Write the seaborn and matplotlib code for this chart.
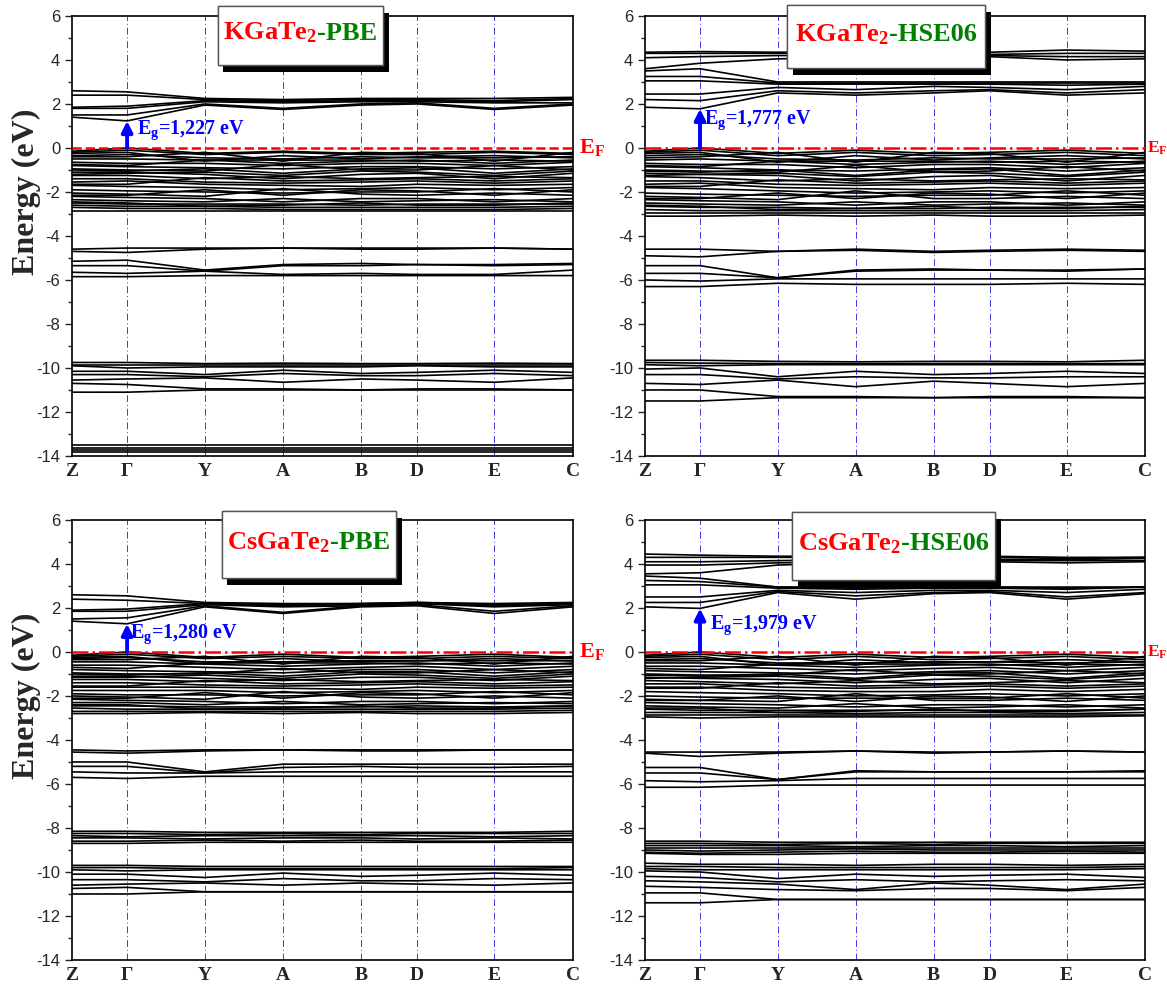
import numpy as np
import pandas as pd
import matplotlib
matplotlib.use('Agg')
import matplotlib.pyplot as plt
import matplotlib.patheffects as pe
from matplotlib.patches import Rectangle
from matplotlib.offsetbox import AnchoredOffsetbox, HPacker, TextArea
from matplotlib.ticker import MultipleLocator
import seaborn as sns

# k-path (Z, Gamma, Y, A, B, D, E, C)
k_labels = ['Z', 'Γ', 'Y', 'A', 'B', 'D', 'E', 'C']
k_pos = [0.0, 0.110, 0.265, 0.421, 0.577, 0.689, 0.843, 1.0]

# ---------------- KGaTe2 - PBE ----------------
kgt_pbe_cond = [
    [1.40, 1.23, 1.95, 1.75, 1.95, 2.00, 1.75, 1.95],
    [1.50, 1.50, 2.00, 1.80, 2.00, 2.05, 1.80, 2.00],
    [1.80, 1.80, 2.10, 2.05, 2.10, 2.10, 2.05, 2.05],
    [1.85, 1.90, 2.15, 2.10, 2.15, 2.15, 2.10, 2.20],
    [2.40, 2.40, 2.20, 2.15, 2.20, 2.20, 2.15, 2.25],
    [2.60, 2.55, 2.25, 2.20, 2.25, 2.25, 2.25, 2.30],
]
kgt_pbe_val = [
    [-0.15, 0.00, -0.25, -0.15, -0.25, -0.20, -0.15, -0.25],
    [-0.20, -0.10, -0.30, -0.20, -0.30, -0.30, -0.20, -0.30],
    [-0.35, -0.30, -0.45, -0.50, -0.40, -0.45, -0.45, -0.40],
    [-0.50, -0.50, -0.55, -0.70, -0.60, -0.55, -0.70, -0.55],
    [-0.65, -0.70, -0.70, -0.80, -0.70, -0.70, -0.80, -0.65],
    [-0.80, -0.85, -0.90, -0.95, -0.85, -0.85, -0.95, -0.85],
    [-0.95, -1.00, -1.05, -0.75, -1.00, -1.00, -0.80, -1.00],
    [-1.10, -1.10, -1.20, -1.40, -1.20, -1.15, -1.40, -1.15],
    [-1.25, -1.25, -1.40, -1.30, -1.40, -1.35, -1.30, -1.35],
    [-1.40, -1.40, -1.55, -1.60, -1.55, -1.50, -1.60, -1.50],
    [-1.55, -1.50, -1.65, -1.70, -1.75, -1.65, -1.70, -1.65],
    [-1.70, -1.75, -1.80, -1.90, -1.85, -1.80, -1.90, -1.80],
    [-1.90, -1.95, -2.00, -2.05, -2.00, -2.00, -1.85, -2.00],
    [-2.05, -2.10, -2.20, -1.85, -2.10, -2.15, -2.05, -2.15],
    [-2.20, -2.25, -2.30, -2.45, -2.30, -2.30, -2.45, -2.30],
    [-2.35, -2.40, -2.45, -2.30, -2.45, -2.40, -2.35, -2.45],
    [-2.50, -2.55, -2.55, -2.55, -2.60, -2.55, -2.55, -2.55],
    [-2.60, -2.65, -2.65, -2.70, -2.70, -2.70, -2.70, -2.65],
    [-2.70, -2.75, -2.75, -2.80, -2.80, -2.80, -2.80, -2.75],
    [-2.85, -2.85, -2.85, -2.85, -2.85, -2.85, -2.85, -2.85],
    [-0.25, -0.20, -0.60, -0.35, -0.50, -0.40, -0.35, -0.45],
    [-1.00, -1.05, -0.95, -1.15, -0.95, -0.90, -1.15, -0.95],
]
kgt_pbe_val2 = [
    [-0.40, -0.40, -0.20, -0.60, -0.20, -0.25, -0.60, -0.20],
    [-0.75, -0.80, -0.55, -0.55, -0.55, -0.60, -0.55, -0.60],
    [-1.20, -1.15, -1.10, -1.25, -1.05, -1.10, -1.25, -1.05],
    [-1.65, -1.65, -1.35, -1.50, -1.45, -1.40, -1.50, -1.40],
    [-2.15, -2.15, -1.90, -2.15, -1.90, -1.95, -2.15, -1.90],
    [-2.45, -2.50, -2.65, -2.60, -2.50, -2.60, -2.60, -2.50],
]
kgt_pbe_semi = [
    [-4.60, -4.55, -4.55, -4.55, -4.55, -4.55, -4.55, -4.60],
    [-4.70, -4.75, -4.60, -4.55, -4.60, -4.60, -4.55, -4.60],
    [-5.15, -5.10, -5.55, -5.30, -5.25, -5.30, -5.30, -5.25],
    [-5.35, -5.35, -5.60, -5.35, -5.35, -5.30, -5.35, -5.30],
    [-5.65, -5.70, -5.60, -5.75, -5.70, -5.75, -5.75, -5.55],
    [-5.85, -5.85, -5.80, -5.80, -5.80, -5.80, -5.80, -5.80],
]
kgt_pbe_core = [
    [-9.75, -9.75, -9.80, -9.78, -9.80, -9.80, -9.78, -9.80],
    [-9.85, -9.85, -9.85, -9.85, -9.85, -9.85, -9.85, -9.85],
    [-9.90, -10.00, -9.95, -9.95, -9.95, -9.90, -9.95, -9.95],
    [-10.15, -10.15, -10.30, -10.10, -10.25, -10.20, -10.10, -10.20],
    [-10.30, -10.30, -10.40, -10.25, -10.35, -10.35, -10.25, -10.35],
    [-10.55, -10.50, -10.45, -10.65, -10.50, -10.55, -10.65, -10.45],
    [-10.70, -10.75, -10.95, -10.95, -11.00, -10.95, -10.95, -11.00],
    [-11.10, -11.10, -11.00, -11.00, -11.00, -11.00, -11.00, -11.00],
    [-13.50, -13.50, -13.50, -13.50, -13.50, -13.50, -13.50, -13.50],
    [-13.62, -13.62, -13.62, -13.62, -13.62, -13.62, -13.62, -13.62],
    [-13.72, -13.72, -13.72, -13.72, -13.72, -13.72, -13.72, -13.72],
    [-13.82, -13.82, -13.82, -13.82, -13.82, -13.82, -13.82, -13.82],
]

# ---------------- KGaTe2 - HSE06 ----------------
kgt_hse_cond = [
    [1.85, 1.78, 2.50, 2.40, 2.50, 2.60, 2.40, 2.50],
    [2.20, 2.15, 2.60, 2.50, 2.60, 2.65, 2.50, 2.65],
    [2.45, 2.45, 2.75, 2.65, 2.80, 2.75, 2.65, 2.80],
    [3.05, 3.05, 2.90, 2.90, 2.90, 2.90, 2.85, 2.90],
    [3.25, 3.25, 2.95, 2.95, 2.95, 2.95, 2.95, 2.95],
    [3.50, 3.60, 3.00, 3.00, 3.00, 3.00, 3.00, 3.00],
    [3.60, 3.85, 4.05, 4.10, 4.10, 4.15, 4.00, 4.05],
    [4.10, 4.15, 4.20, 4.20, 4.20, 4.20, 4.15, 4.15],
    [4.30, 4.30, 4.30, 4.30, 4.30, 4.25, 4.30, 4.30],
    [4.35, 4.38, 4.35, 4.35, 4.35, 4.35, 4.45, 4.40],
]
kgt_hse_val = [
    [-0.15, 0.00, -0.25, -0.10, -0.25, -0.20, -0.10, -0.25],
    [-0.20, -0.10, -0.35, -0.20, -0.35, -0.30, -0.20, -0.35],
    [-0.35, -0.30, -0.50, -0.55, -0.45, -0.50, -0.50, -0.45],
    [-0.55, -0.50, -0.60, -0.75, -0.65, -0.60, -0.75, -0.60],
    [-0.70, -0.75, -0.75, -0.90, -0.75, -0.75, -0.90, -0.70],
    [-0.85, -0.90, -1.00, -1.05, -0.95, -0.90, -1.05, -0.90],
    [-1.00, -1.05, -1.10, -0.80, -1.10, -1.05, -0.85, -1.05],
    [-1.15, -1.20, -1.25, -1.50, -1.30, -1.25, -1.50, -1.25],
    [-1.30, -1.35, -1.50, -1.40, -1.50, -1.45, -1.40, -1.45],
    [-1.50, -1.50, -1.65, -1.70, -1.65, -1.60, -1.70, -1.60],
    [-1.65, -1.60, -1.80, -1.85, -1.90, -1.80, -1.85, -1.80],
    [-1.80, -1.85, -1.95, -2.05, -2.00, -1.95, -2.05, -1.95],
    [-2.05, -2.10, -2.15, -2.20, -2.15, -2.15, -1.95, -2.15],
    [-2.20, -2.25, -2.35, -1.95, -2.30, -2.30, -2.20, -2.30],
    [-2.35, -2.40, -2.45, -2.60, -2.45, -2.45, -2.60, -2.45],
    [-2.50, -2.55, -2.60, -2.45, -2.60, -2.55, -2.50, -2.60],
    [-2.65, -2.70, -2.70, -2.75, -2.75, -2.70, -2.70, -2.70],
    [-2.80, -2.85, -2.85, -2.85, -2.85, -2.85, -2.85, -2.80],
    [-2.95, -2.95, -2.95, -2.95, -2.95, -2.95, -2.95, -2.95],
    [-3.10, -3.10, -3.05, -3.10, -3.05, -3.10, -3.10, -3.05],
    [-0.25, -0.20, -0.65, -0.35, -0.55, -0.45, -0.35, -0.50],
    [-1.05, -1.10, -1.00, -1.25, -1.00, -0.95, -1.25, -1.00],
]
kgt_hse_val2 = [
    [-0.45, -0.40, -0.20, -0.65, -0.20, -0.25, -0.65, -0.20],
    [-0.80, -0.85, -0.60, -0.60, -0.60, -0.65, -0.60, -0.65],
    [-1.25, -1.20, -1.15, -1.30, -1.10, -1.15, -1.30, -1.10],
    [-1.75, -1.75, -1.45, -1.60, -1.55, -1.50, -1.60, -1.50],
    [-2.30, -2.30, -2.05, -2.30, -2.05, -2.10, -2.30, -2.05],
    [-2.60, -2.65, -2.80, -2.75, -2.65, -2.75, -2.75, -2.65],
]
kgt_hse_semi = [
    [-4.60, -4.60, -4.70, -4.60, -4.70, -4.65, -4.60, -4.65],
    [-4.90, -4.95, -4.70, -4.65, -4.75, -4.70, -4.65, -4.70],
    [-5.35, -5.35, -5.90, -5.55, -5.50, -5.55, -5.55, -5.50],
    [-5.70, -5.70, -5.90, -5.60, -5.55, -5.55, -5.60, -5.50],
    [-6.00, -6.05, -5.95, -5.95, -5.95, -5.95, -5.95, -5.95],
    [-6.30, -6.30, -6.15, -6.20, -6.20, -6.20, -6.15, -6.20],
]
kgt_hse_core = [
    [-9.65, -9.65, -9.70, -9.72, -9.70, -9.70, -9.72, -9.65],
    [-9.75, -9.78, -9.80, -9.80, -9.80, -9.80, -9.80, -9.80],
    [-9.85, -9.90, -9.85, -9.85, -9.85, -9.85, -9.85, -9.85],
    [-10.05, -10.00, -10.40, -10.15, -10.30, -10.25, -10.15, -10.25],
    [-10.30, -10.30, -10.50, -10.40, -10.45, -10.45, -10.40, -10.40],
    [-10.70, -10.75, -10.55, -10.85, -10.60, -10.70, -10.85, -10.70],
    [-11.00, -11.00, -11.30, -11.30, -11.35, -11.30, -11.30, -11.35],
    [-11.50, -11.50, -11.35, -11.35, -11.35, -11.35, -11.35, -11.35],
]

# ---------------- CsGaTe2 - PBE ----------------
cgt_pbe_cond = [
    [1.40, 1.28, 2.05, 1.75, 2.05, 2.10, 1.75, 2.05],
    [1.50, 1.55, 2.10, 1.80, 2.10, 2.15, 1.85, 2.10],
    [1.85, 1.85, 2.15, 2.05, 2.10, 2.20, 2.05, 2.15],
    [1.90, 1.95, 2.20, 2.10, 2.15, 2.20, 2.10, 2.20],
    [2.40, 2.35, 2.20, 2.15, 2.20, 2.25, 2.15, 2.20],
    [2.60, 2.55, 2.25, 2.20, 2.20, 2.25, 2.20, 2.25],
]
cgt_pbe_val = [
    [-0.15, 0.00, -0.25, -0.10, -0.25, -0.20, -0.10, -0.25],
    [-0.20, -0.10, -0.30, -0.20, -0.30, -0.30, -0.20, -0.30],
    [-0.30, -0.25, -0.45, -0.45, -0.40, -0.40, -0.40, -0.40],
    [-0.45, -0.45, -0.55, -0.65, -0.55, -0.50, -0.65, -0.50],
    [-0.60, -0.60, -0.70, -0.80, -0.70, -0.65, -0.80, -0.65],
    [-0.80, -0.85, -0.90, -0.95, -0.80, -0.80, -0.95, -0.80],
    [-0.95, -1.00, -1.00, -0.75, -0.95, -0.95, -0.80, -0.95],
    [-1.10, -1.10, -1.20, -1.30, -1.15, -1.15, -1.30, -1.10],
    [-1.25, -1.25, -1.35, -1.25, -1.35, -1.30, -1.25, -1.30],
    [-1.40, -1.40, -1.50, -1.55, -1.50, -1.45, -1.55, -1.50],
    [-1.60, -1.60, -1.60, -1.65, -1.70, -1.60, -1.65, -1.60],
    [-1.75, -1.75, -1.75, -1.85, -1.80, -1.75, -1.85, -1.75],
    [-1.90, -1.95, -1.95, -2.00, -1.95, -1.95, -1.80, -1.95],
    [-2.00, -2.05, -2.15, -1.80, -2.05, -2.10, -2.00, -2.10],
    [-2.15, -2.20, -2.25, -2.35, -2.25, -2.25, -2.35, -2.25],
    [-2.30, -2.30, -2.40, -2.25, -2.40, -2.35, -2.30, -2.35],
    [-2.45, -2.45, -2.50, -2.50, -2.50, -2.45, -2.50, -2.45],
    [-2.55, -2.60, -2.60, -2.60, -2.60, -2.60, -2.60, -2.55],
    [-2.70, -2.70, -2.70, -2.70, -2.70, -2.70, -2.70, -2.65],
    [-2.80, -2.80, -2.75, -2.80, -2.75, -2.80, -2.80, -2.75],
    [-0.25, -0.20, -0.55, -0.30, -0.45, -0.40, -0.30, -0.40],
    [-1.00, -1.05, -0.95, -1.10, -0.90, -0.90, -1.10, -0.90],
]
cgt_pbe_val2 = [
    [-0.35, -0.35, -0.20, -0.55, -0.20, -0.25, -0.55, -0.20],
    [-0.70, -0.75, -0.50, -0.50, -0.50, -0.55, -0.50, -0.55],
    [-1.15, -1.15, -1.05, -1.20, -1.00, -1.05, -1.20, -1.00],
    [-1.55, -1.55, -1.30, -1.45, -1.40, -1.35, -1.45, -1.35],
    [-2.10, -2.10, -1.85, -2.10, -1.85, -1.90, -2.10, -1.85],
    [-2.40, -2.40, -2.60, -2.55, -2.45, -2.55, -2.55, -2.45],
]
cgt_pbe_semi = [
    [-4.45, -4.50, -4.45, -4.45, -4.45, -4.45, -4.45, -4.45],
    [-4.55, -4.60, -4.50, -4.45, -4.50, -4.50, -4.45, -4.45],
    [-5.00, -5.00, -5.45, -5.10, -5.10, -5.10, -5.10, -5.10],
    [-5.20, -5.20, -5.50, -5.25, -5.20, -5.25, -5.25, -5.20],
    [-5.45, -5.50, -5.50, -5.45, -5.45, -5.45, -5.45, -5.45],
    [-5.70, -5.75, -5.65, -5.65, -5.65, -5.65, -5.65, -5.65],
]
cgt_pbe_deep = [
    [-8.15, -8.15, -8.20, -8.20, -8.20, -8.20, -8.20, -8.15],
    [-8.25, -8.25, -8.30, -8.25, -8.30, -8.25, -8.25, -8.25],
    [-8.35, -8.40, -8.35, -8.35, -8.35, -8.35, -8.40, -8.35],
    [-8.45, -8.45, -8.50, -8.45, -8.45, -8.50, -8.45, -8.50],
    [-8.60, -8.60, -8.55, -8.60, -8.55, -8.60, -8.60, -8.55],
    [-8.70, -8.70, -8.65, -8.65, -8.65, -8.65, -8.65, -8.65],
]
cgt_pbe_core = [
    [-9.70, -9.70, -9.75, -9.75, -9.75, -9.75, -9.75, -9.75],
    [-9.80, -9.80, -9.85, -9.85, -9.85, -9.85, -9.85, -9.80],
    [-9.90, -9.95, -9.90, -9.90, -9.90, -9.90, -9.90, -9.90],
    [-10.10, -10.10, -10.25, -10.05, -10.20, -10.15, -10.05, -10.15],
    [-10.35, -10.35, -10.45, -10.30, -10.40, -10.40, -10.30, -10.35],
    [-10.60, -10.55, -10.50, -10.60, -10.50, -10.55, -10.60, -10.50],
    [-10.75, -10.70, -10.90, -10.90, -10.90, -10.90, -10.90, -10.90],
    [-11.00, -11.00, -10.90, -10.90, -10.90, -10.90, -10.90, -10.90],
]

# ---------------- CsGaTe2 - HSE06 ----------------
cgt_hse_cond = [
    [2.05, 1.98, 2.70, 2.40, 2.65, 2.70, 2.40, 2.65],
    [2.25, 2.25, 2.75, 2.55, 2.70, 2.75, 2.50, 2.70],
    [2.50, 2.50, 2.80, 2.70, 2.80, 2.80, 2.70, 2.85],
    [3.05, 3.05, 2.90, 2.85, 2.90, 2.90, 2.85, 2.95],
    [3.25, 3.20, 2.95, 2.90, 2.95, 2.95, 2.90, 2.95],
    [3.45, 3.35, 2.95, 2.95, 2.95, 2.95, 2.95, 2.95],
    [3.55, 3.60, 3.95, 4.05, 4.05, 4.10, 4.05, 4.10],
    [3.95, 3.95, 4.05, 4.10, 4.10, 4.15, 4.15, 4.15],
    [4.10, 4.10, 4.15, 4.20, 4.20, 4.20, 4.20, 4.25],
    [4.30, 4.30, 4.30, 4.30, 4.25, 4.30, 4.25, 4.30],
    [4.45, 4.40, 4.35, 4.35, 4.35, 4.35, 4.30, 4.30],
]
cgt_hse_val = [
    [-0.15, 0.00, -0.25, -0.10, -0.25, -0.20, -0.10, -0.25],
    [-0.20, -0.10, -0.35, -0.20, -0.35, -0.30, -0.20, -0.35],
    [-0.35, -0.30, -0.50, -0.50, -0.45, -0.45, -0.50, -0.45],
    [-0.50, -0.50, -0.60, -0.70, -0.60, -0.55, -0.70, -0.55],
    [-0.65, -0.65, -0.75, -0.85, -0.75, -0.70, -0.85, -0.70],
    [-0.85, -0.90, -0.95, -1.00, -0.90, -0.85, -1.00, -0.85],
    [-1.00, -1.05, -1.05, -0.80, -1.05, -1.00, -0.85, -1.00],
    [-1.15, -1.20, -1.25, -1.40, -1.25, -1.20, -1.40, -1.20],
    [-1.30, -1.35, -1.45, -1.30, -1.45, -1.40, -1.30, -1.40],
    [-1.45, -1.45, -1.60, -1.65, -1.60, -1.55, -1.65, -1.55],
    [-1.60, -1.60, -1.75, -1.80, -1.80, -1.70, -1.80, -1.70],
    [-1.80, -1.85, -1.90, -2.00, -1.95, -1.90, -2.00, -1.90],
    [-2.00, -2.05, -2.10, -2.10, -2.10, -2.10, -1.90, -2.10],
    [-2.15, -2.20, -2.25, -1.90, -2.20, -2.20, -2.10, -2.20],
    [-2.30, -2.35, -2.40, -2.50, -2.40, -2.40, -2.50, -2.40],
    [-2.45, -2.50, -2.55, -2.35, -2.55, -2.50, -2.40, -2.55],
    [-2.60, -2.65, -2.65, -2.65, -2.65, -2.65, -2.65, -2.60],
    [-2.75, -2.75, -2.75, -2.80, -2.75, -2.75, -2.80, -2.75],
    [-2.85, -2.85, -2.85, -2.85, -2.85, -2.85, -2.85, -2.85],
    [-2.95, -3.00, -2.95, -2.95, -2.95, -2.95, -2.95, -2.90],
    [-0.25, -0.20, -0.60, -0.35, -0.50, -0.45, -0.35, -0.45],
    [-1.05, -1.10, -1.00, -1.20, -0.95, -0.95, -1.20, -0.95],
]
cgt_hse_val2 = [
    [-0.40, -0.40, -0.20, -0.60, -0.20, -0.25, -0.60, -0.20],
    [-0.75, -0.80, -0.55, -0.55, -0.55, -0.60, -0.55, -0.60],
    [-1.20, -1.15, -1.10, -1.25, -1.05, -1.10, -1.25, -1.05],
    [-1.65, -1.65, -1.40, -1.55, -1.50, -1.45, -1.55, -1.45],
    [-2.20, -2.20, -2.00, -2.25, -2.00, -2.05, -2.25, -2.00],
    [-2.55, -2.55, -2.75, -2.70, -2.60, -2.70, -2.70, -2.60],
]
cgt_hse_semi = [
    [-4.55, -4.55, -4.55, -4.50, -4.55, -4.55, -4.50, -4.55],
    [-4.60, -4.75, -4.60, -4.50, -4.60, -4.55, -4.50, -4.55],
    [-5.25, -5.25, -5.80, -5.40, -5.45, -5.45, -5.45, -5.40],
    [-5.50, -5.50, -5.80, -5.45, -5.45, -5.45, -5.45, -5.45],
    [-5.85, -5.90, -5.85, -5.75, -5.75, -5.75, -5.75, -5.75],
    [-6.15, -6.15, -6.05, -6.05, -6.05, -6.05, -6.05, -6.05],
]
cgt_hse_deep = [
    [-8.60, -8.60, -8.65, -8.65, -8.65, -8.65, -8.65, -8.65],
    [-8.70, -8.70, -8.75, -8.70, -8.75, -8.70, -8.70, -8.70],
    [-8.80, -8.80, -8.80, -8.85, -8.80, -8.80, -8.85, -8.80],
    [-8.90, -8.90, -8.90, -8.90, -8.90, -8.90, -8.90, -8.90],
    [-9.00, -9.05, -9.00, -8.95, -9.00, -9.00, -9.00, -9.00],
    [-9.10, -9.15, -9.10, -9.05, -9.10, -9.10, -9.05, -9.10],
    [-9.15, -9.20, -9.20, -9.15, -9.15, -9.15, -9.15, -9.15],
]
cgt_hse_core = [
    [-9.60, -9.65, -9.65, -9.70, -9.65, -9.65, -9.70, -9.65],
    [-9.75, -9.75, -9.80, -9.80, -9.80, -9.80, -9.80, -9.75],
    [-9.85, -9.90, -9.90, -9.90, -9.90, -9.90, -9.90, -9.85],
    [-9.95, -10.00, -10.30, -10.10, -10.20, -10.15, -10.10, -10.25],
    [-10.20, -10.25, -10.45, -10.35, -10.45, -10.40, -10.35, -10.40],
    [-10.40, -10.45, -10.55, -10.80, -10.50, -10.60, -10.80, -10.55],
    [-10.65, -10.70, -10.80, -10.85, -10.75, -10.75, -10.85, -10.70],
    [-10.95, -10.95, -11.25, -11.25, -11.25, -11.25, -11.25, -11.25],
    [-11.40, -11.40, -11.25, -11.25, -11.25, -11.25, -11.25, -11.25],
]

compounds = ['KGaTe', 'KGaTe', 'CsGaTe', 'CsGaTe']
methods = ['-PBE', '-HSE06', '-PBE', '-HSE06']
gaps = [1.227, 1.777, 1.280, 1.979]
gap_text = ['1,227', '1,777', '1,280', '1,979']

sns.set_style('ticks')
plt.rcParams['font.family'] = ['Liberation Sans', 'DejaVu Sans']
plt.rcParams['axes.unicode_minus'] = False
plt.rcParams['mathtext.fontset'] = 'custom'
plt.rcParams['mathtext.rm'] = 'Liberation Serif:bold'
plt.rcParams['mathtext.it'] = 'Liberation Serif:bold'
plt.rcParams['mathtext.bf'] = 'Liberation Serif:bold'

SERIF = ['Liberation Serif', 'DejaVu Serif']


def band_frame(groups):
    rows = []
    b = 0
    for grp in groups:
        for band in grp:
            for kk, e in zip(k_pos, band):
                rows.append((b, kk, e))
            b += 1
    return pd.DataFrame(rows, columns=['band', 'k', 'E'])


panels = [
    [kgt_pbe_cond, kgt_pbe_val, kgt_pbe_val2, kgt_pbe_semi, kgt_pbe_core],
    [kgt_hse_cond, kgt_hse_val, kgt_hse_val2, kgt_hse_semi, kgt_hse_core],
    [cgt_pbe_cond, cgt_pbe_val, cgt_pbe_val2, cgt_pbe_semi, cgt_pbe_deep, cgt_pbe_core],
    [cgt_hse_cond, cgt_hse_val, cgt_hse_val2, cgt_hse_semi, cgt_hse_deep, cgt_hse_core],
]
axes_rect = [
    [0.0617, 0.5366, 0.4293, 0.4472],
    [0.5527, 0.5366, 0.4285, 0.4472],
    [0.0617, 0.0244, 0.4293, 0.4472],
    [0.5527, 0.0244, 0.4285, 0.4472],
]
# title boxes: (x0, y0, width, height) in axes fraction
box_rect = [(0.291, 0.889, 0.330, 0.134),
            (0.284, 0.882, 0.396, 0.143),
            (0.299, 0.868, 0.348, 0.152),
            (0.294, 0.864, 0.406, 0.154)]
eg_xy = [(0.130, 0.80), (0.118, 1.25), (0.116, 0.80), (0.130, 1.20)]
fermi_ls = ['--', '-.', '-.', '-.']
ef_size = [16, 12.5, 16, 12.5]

fig = plt.figure(figsize=(11.67, 9.84), dpi=100)

for i in range(4):
    ax = fig.add_axes(axes_rect[i])
    df = band_frame(panels[i])
    sns.lineplot(data=df, x='k', y='E', units='band', estimator=None,
                 color='black', lw=1.2, sort=False, legend=False, ax=ax)

    for kk in k_pos[1:-1]:
        ax.axvline(kk, color='#3a3adf', lw=0.7, ls=(0, (7, 3, 1, 3)), zorder=1)
    ax.axhline(0, color='red', lw=1.8, ls=fermi_ls[i], zorder=3)

    ax.set_xlim(0, 1)
    ax.set_ylim(-14, 6)
    ax.yaxis.set_major_locator(MultipleLocator(2))
    ax.yaxis.set_minor_locator(MultipleLocator(1))
    ax.set_xticks(k_pos)
    ax.set_xticklabels(k_labels, family=SERIF, fontweight='bold', fontsize=14)
    ax.tick_params(axis='x', length=0, pad=5)
    ax.tick_params(axis='y', which='major', length=5, width=1.0, labelsize=12, direction='out')
    ax.tick_params(axis='y', which='minor', length=3, width=1.0, direction='out')
    for sp in ax.spines.values():
        sp.set_linewidth(1.2)
        sp.set_color('black')
    ax.set_xlabel('')
    if i % 2 == 0:
        ax.set_ylabel('Energy (eV)', family=SERIF, fontweight='bold', fontsize=23)
        ax.yaxis.set_label_coords(-0.062, 0.60)
    else:
        ax.set_ylabel('')

    # band-gap arrow and label
    ax.annotate('', xy=(k_pos[1], gaps[i]), xytext=(k_pos[1], 0.0),
                arrowprops=dict(arrowstyle='-|>', color='blue', lw=2.8,
                                mutation_scale=16, shrinkA=0, shrinkB=0),
                zorder=5)
    ax.text(eg_xy[i][0], eg_xy[i][1], 'E$_\\mathregular{g}$=' + gap_text[i] + ' eV',
            color='blue', family=SERIF, fontweight='bold', fontsize=14.5,
            va='center', ha='left', zorder=6)

    # Fermi level label
    ax.text(1.003 if i % 2 else 1.012, 0.0, 'E$_\\mathregular{F}$', color='red', family=SERIF,
            fontweight='bold', fontsize=ef_size[i], va='center', ha='left',
            transform=ax.get_yaxis_transform(), clip_on=False)

    # title box with shadow
    bx, by, bw, bh = box_rect[i]
    rect = Rectangle((bx, by), bw, bh, transform=ax.transAxes, facecolor='white',
                     edgecolor='#555555', lw=1.0, clip_on=False, zorder=9)
    rect.set_path_effects([pe.withSimplePatchShadow(offset=(4, -5), shadow_rgbFace='black', alpha=1.0),
                           pe.Normal()])
    ax.add_patch(rect)
    t1 = TextArea('%s$_\\mathregular{2}$' % compounds[i],
                  textprops=dict(color='red', family=SERIF, fontweight='bold', fontsize=19))
    t2 = TextArea(methods[i],
                  textprops=dict(color='green', family=SERIF, fontweight='bold', fontsize=19))
    pack = HPacker(children=[t1, t2], align='baseline', pad=0, sep=0)
    ab = AnchoredOffsetbox(loc='center', child=pack, pad=0, borderpad=0, frameon=False,
                           bbox_to_anchor=(bx + bw / 2, by + bh / 2 + 0.005),
                           bbox_transform=ax.transAxes)
    ab.set_zorder(10)
    ax.add_artist(ab)

fig.savefig('out.png', dpi=100)
